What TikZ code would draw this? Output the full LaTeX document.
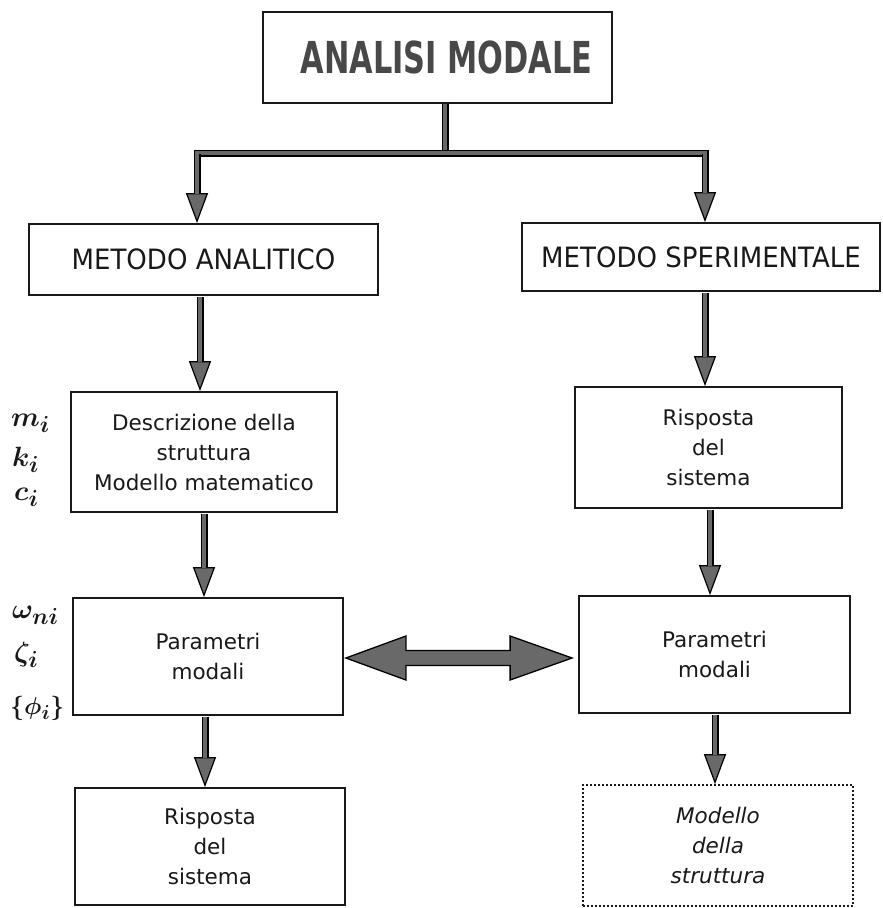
\documentclass[tikz,border=0pt]{standalone}
\usepackage{fontspec}
\setmainfont{DejaVu Sans}
\usepackage{graphicx}
\usetikzlibrary{arrows.meta,calc}
\definecolor{midgray}{RGB}{105,105,105}
\definecolor{titlegray}{RGB}{72,72,72}
\definecolor{ink}{RGB}{25,25,25}
\newcommand\bodysize{\fontsize{21.5}{30}\selectfont}
\newcommand\headsize{\fontsize{28}{30}\selectfont}
\begin{document}
\begin{tikzpicture}[x=1pt,y=-1pt,
  box/.style={draw=ink, line width=1.8pt, fill=white, inner sep=0pt, align=center, font=\bodysize, text=ink},
  dotbox/.style={box, dash pattern=on 1.8pt off 2.2pt, line width=1.6pt, font=\bodysize\itshape},
  lab/.style={inner sep=0pt, anchor=base west, text=ink, font=\fontsize{24.88}{30}\selectfont\boldmath},
  pipezero/.style={draw=black, line width=7pt, postaction={draw=midgray, line width=4pt}},
  pipe/.style={draw=black, line width=7pt, shorten <=0.9pt,
    -{Triangle[length=30pt,width=22pt,line width=1.2pt,fill=midgray]},
    postaction={draw=midgray, line width=4pt, -, shorten <=0.9pt, shorten >=29pt}}
]
\useasboundingbox (0,0) rectangle (883,908);

% boxes
\node[box, minimum width=349pt, minimum height=91pt] (title) at (437.5,57.5)
  {\hspace*{18pt}\scalebox{0.69}[1]{\fontsize{44}{44}\selectfont\bfseries\textcolor{titlegray}{ANALISI MODALE}}};
\node[box, minimum width=349pt, minimum height=71pt] (ma) at (203.5,259.5)
  {\scalebox{0.93}[1]{\headsize METODO ANALITICO}};
\node[box, minimum width=358pt, minimum height=68pt] (ms) at (701,257)
  {\scalebox{0.93}[1]{\headsize METODO SPERIMENTALE}};
\node[box, minimum width=266pt, minimum height=120pt] (desc) at (204,452)
  {Descrizione della\\struttura\\Modello matematico};
\node[box, minimum width=267pt, minimum height=121pt] (rispR) at (708.5,447.5)
  {Risposta\\del\\sistema};
\node[box, minimum width=270pt, minimum height=117pt] (parL) at (208,656.5)
  {Parametri\\modali};
\node[box, minimum width=271pt, minimum height=117pt] (parR) at (714.5,654.5)
  {Parametri\\modali};
\node[box, minimum width=270pt, minimum height=117pt] (rispL) at (210,846.5)
  {Risposta\\del\\sistema};
\node[dotbox, minimum width=270pt, minimum height=121pt] (mod) at (718,845.5)
  {Modello\\della\\struttura};

% handwritten parameters
\node[lab] (mi) at (11,426) {\scalebox{1.12}{$m_i$}};
\node[lab] (ki) at (12,466) {\scalebox{1.12}{$k_i$}};
\node[lab] (ci) at (14,500) {\scalebox{1.12}{$c_i$}};
\node[lab] (wi) at (12,618) {\scalebox{1.12}{$\omega_{ni}$}};
\node[lab] (zi) at (14,661) {\scalebox{1.12}{$\zeta_i$}};
\node[lab] (fi) at (10,714) {\scalebox{0.98}{$\{\phi_i\}$}};

% junction
\coordinate (jc) at (445,153);
\coordinate (jl) at (197,153);
\coordinate (jr) at (705,153);
\draw[pipezero] (title.south -| jc) -- (jc);
\draw[pipezero, line cap=rect] (jl) -- (jr);
\draw[pipe] (jl) -- (ma.north -| jl);
\draw[pipe] (jr) -- (ms.north -| jr);

% column arrows
\coordinate (xa) at (200,0);
\coordinate (xb) at (204,0);
\coordinate (xc) at (205,0);
\coordinate (xd) at (705,0);
\coordinate (xe) at (710,0);
\coordinate (xf) at (715,0);
\draw[pipe] (ma.south -| xa) -- (desc.north -| xa);
\draw[pipe] (desc.south -| xb) -- (parL.north -| xb);
\draw[pipe] (parL.south -| xc) -- (rispL.north -| xc);
\draw[pipe] (ms.south -| xd) -- (rispR.north -| xd);
\draw[pipe] (rispR.south -| xe) -- (parR.north -| xe);
\draw[pipe] (parR.south -| xf) -- (mod.north -| xf);

% double arrow
\coordinate (dL) at ($(parL.east)+(2,1.5)$);
\coordinate (dR) at ($(dL -| parR.west)+(-6,0)$);
\draw[draw=black, line width=1.3pt, fill=midgray, line join=miter]
  (dL) -- ($(dL)+(60,-22)$) -- ($(dL)+(60,-7.5)$) -- ($(dR)+(-62,-7.5)$)
  -- ($(dR)+(-62,-22)$) -- (dR) -- ($(dR)+(-62,22)$) -- ($(dR)+(-62,7.5)$)
  -- ($(dL)+(60,7.5)$) -- ($(dL)+(60,22)$) -- cycle;
\end{tikzpicture}
\end{document}
